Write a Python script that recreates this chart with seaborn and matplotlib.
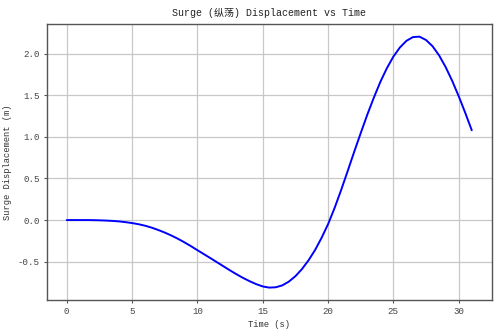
import matplotlib
matplotlib.use("Agg")
import matplotlib.pyplot as plt
import seaborn as sns
import pandas as pd

time_s = [i * 0.5 for i in range(63)]
surge_m = [
    0.000, 0.000, 0.000, 0.000, -0.001, -0.003, -0.006, -0.010, -0.016, -0.025,
    -0.036, -0.050, -0.068, -0.091, -0.119, -0.150, -0.185, -0.224, -0.267, -0.313,
    -0.362, -0.410, -0.458, -0.507, -0.556, -0.605, -0.652, -0.696, -0.735, -0.770,
    -0.798, -0.812, -0.808, -0.785, -0.740, -0.675, -0.590, -0.485, -0.362, -0.215,
    -0.050, 0.145, 0.360, 0.588, 0.820, 1.045, 1.265, 1.470, 1.660, 1.825,
    1.965, 2.075, 2.155, 2.200, 2.205, 2.165, 2.090, 1.980, 1.840, 1.675,
    1.490, 1.290, 1.080,
]
title_text = "Surge (纵荡) Displacement vs Time"
xlabel_text = "Time (s)"
ylabel_text = "Surge Displacement (m)"

df = pd.DataFrame({"t": time_s, "x": surge_m})

sns.set_style("ticks")
fam = ["Liberation Mono", "Noto Sans CJK SC"]
plt.rcParams["font.family"] = fam
plt.rcParams["axes.unicode_minus"] = False

fig, ax = plt.subplots(figsize=(5.0, 3.35), dpi=100)
fig.subplots_adjust(left=0.093, right=0.984, top=0.928, bottom=0.104)

sns.lineplot(data=df, x="t", y="x", ax=ax, color="#0000ff", linewidth=1.4)

ax.grid(True, color="#c8c8c8", linewidth=0.9)
ax.set_axisbelow(True)
for s in ax.spines.values():
    s.set_color("#555555")
    s.set_linewidth(1.0)
ax.set_xticks([0, 5, 10, 15, 20, 25, 30])
ax.set_yticks([-0.5, 0.0, 0.5, 1.0, 1.5, 2.0])
ax.tick_params(labelsize=6.6, colors="#555555", labelcolor="#444444",
               length=2.5, width=0.8, pad=2.5)
ax.set_title(title_text, fontsize=7.2, family=fam, color="#222222")
ax.set_xlabel(xlabel_text, fontsize=6.3, color="#333333", labelpad=3)
ax.set_ylabel(ylabel_text, fontsize=6.3, color="#333333", labelpad=4)

fig.savefig("out.png", dpi=100)
